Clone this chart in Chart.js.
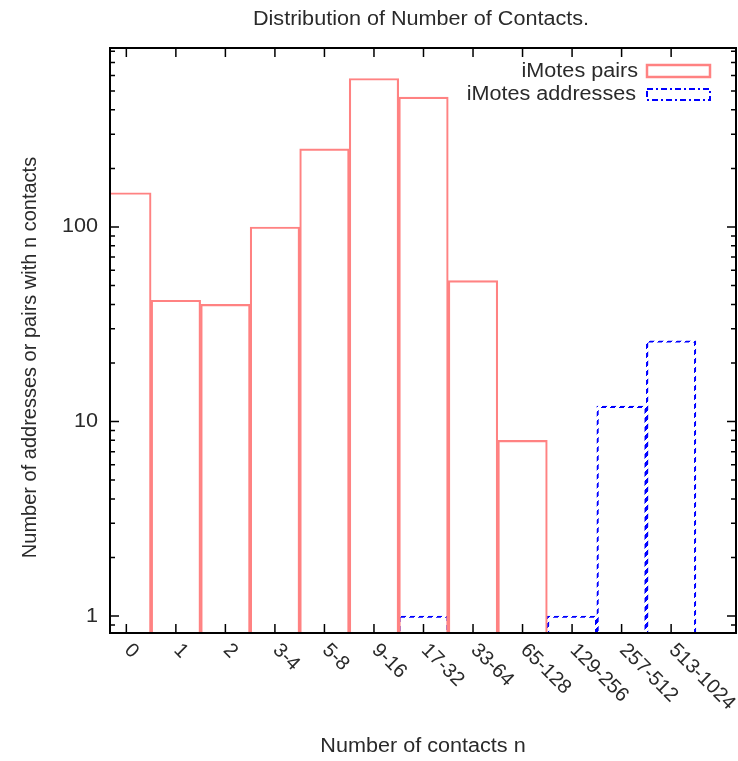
<!DOCTYPE html>
<html>
<head>
<meta charset="utf-8">
<script src="https://cdn.jsdelivr.net/npm/chart.js@4"></script>
<style>
  html, body { margin: 0; padding: 0; background: #fff; }
  #wrap { width: 738px; height: 761px; }
</style>
</head>
<body>
<div id="wrap"><canvas id="contactsChart"></canvas></div>
<script>
// data (log scale)
const categories = ['0', '1', '2', '3-4', '5-8', '9-16', '17-32', '33-64', '65-128', '129-256', '257-512', '513-1024'];
const pairs = [150, 42, 40, 100, 252, 580, 465, 53, 8, null, null, null];
const addresses = [null, null, null, null, null, null, 1, null, null, 1, 12, 26];
const yTickValues = [1, 10, 100];
const yTickLabels = ['1', '10', '100'];

const FONT = '20px "Liberation Sans", Arial, sans-serif';
const TEXT = '#2a2a2a';
const PINK = 'rgb(255,130,130)';
const BLUE = '#0000ff';
const STRETCH = 1.08; // the picture's horizontal text is a bit wide

// dashed look for the blue outline: diagonal stripes used as border colour
function dashPattern() {
    const c = document.createElement('canvas');
    c.width = c.height = 9;
    const g = c.getContext('2d');
    g.fillStyle = BLUE;
    for (let i = 0; i < 9; i++) {
        for (let j = 0; j < 9; j++) {
            if ((i + j) % 9 < 5) g.fillRect(i, j, 1, 1);
        }
    }
    return g.createPattern(c, 'repeat');
}

const minorTicks = [];
[0.1, 1, 10, 100].forEach(d => {
    for (let k = 2; k <= 9; k++) minorTicks.push(d * k);
});

function wideText(ctx, str, x, y, sx) {
    ctx.save();
    ctx.translate(x, y);
    ctx.scale(sx, 1);
    ctx.fillText(str, 0, 0);
    ctx.restore();
}

const gnuplotLook = {
    id: 'gnuplotLook',
    afterDatasetsDraw(chart) {
        const {ctx, chartArea: a, scales: {x, y}} = chart;
        ctx.save();

        // ticks (inside, mirrored)
        ctx.strokeStyle = '#000';
        ctx.lineWidth = 1.5;
        ctx.beginPath();
        categories.forEach((c, i) => {
            const px = x.getPixelForValue(i);
            ctx.moveTo(px, a.bottom); ctx.lineTo(px, a.bottom - 9);
            ctx.moveTo(px, a.top); ctx.lineTo(px, a.top + 9);
        });
        yTickValues.forEach(v => {
            const py = y.getPixelForValue(v);
            ctx.moveTo(a.left, py); ctx.lineTo(a.left + 9, py);
            ctx.moveTo(a.right, py); ctx.lineTo(a.right - 9, py);
        });
        minorTicks.forEach(v => {
            if (v < y.min || v > y.max) return;
            const py = y.getPixelForValue(v);
            ctx.moveTo(a.left, py); ctx.lineTo(a.left + 5, py);
            ctx.moveTo(a.right, py); ctx.lineTo(a.right - 5, py);
        });
        ctx.stroke();

        // frame
        ctx.lineWidth = 2;
        ctx.strokeRect(a.left, a.top, a.right - a.left, a.bottom - a.top);

        ctx.font = FONT;
        ctx.fillStyle = TEXT;

        // y tick labels
        ctx.textAlign = 'right';
        ctx.textBaseline = 'middle';
        yTickValues.forEach((v, i) => {
            wideText(ctx, yTickLabels[i], a.left - 12, y.getPixelForValue(v), STRETCH);
        });

        // x tick labels, rotated down to the right
        ctx.textAlign = 'left';
        categories.forEach((c, i) => {
            ctx.save();
            ctx.translate(x.getPixelForValue(i) + 1, a.bottom + 14);
            ctx.rotate(Math.PI / 4);
            ctx.fillText(c, 0, 0);
            ctx.restore();
        });

        // titles
        const cx = (a.left + a.right) / 2;
        ctx.textAlign = 'center';
        wideText(ctx, 'Distribution of Number of Contacts.', cx - 2, 19, STRETCH);
        wideText(ctx, 'Number of contacts n', cx, 746, STRETCH);
        ctx.save();
        ctx.translate(30, (a.top + a.bottom) / 2 + 17);
        ctx.rotate(-Math.PI / 2);
        ctx.fillText('Number of addresses or pairs with n contacts', 0, 0);
        ctx.restore();

        // legend
        ctx.textAlign = 'right';
        wideText(ctx, 'iMotes pairs', a.right - 98, a.top + 23, STRETCH);
        wideText(ctx, 'iMotes addresses', a.right - 100, a.top + 46, STRETCH);
        ctx.lineWidth = 2.5;
        ctx.strokeStyle = PINK;
        ctx.strokeRect(a.right - 89, a.top + 17, 63, 12);
        ctx.lineWidth = 2;
        ctx.strokeStyle = BLUE;
        ctx.setLineDash([6, 3, 2, 3]);
        ctx.strokeRect(a.right - 89, a.top + 41, 63, 11);
        ctx.restore();
    }
};

const ctx = document.getElementById('contactsChart').getContext('2d');

const contactsChart = new Chart(ctx, {
    type: 'bar',
    data: {
        datasets: [{
            label: 'iMotes pairs',
            data: categories.map((c, i) => ({x: i, y: pairs[i]})),
            backgroundColor: 'rgba(0,0,0,0)',
            borderColor: PINK,
            borderWidth: 1.5,
            borderSkipped: 'start',
            barPercentage: 1,
            categoryPercentage: 1,
            grouped: false,
            clip: 0
        }, {
            label: 'iMotes addresses',
            data: categories.map((c, i) => ({x: i, y: addresses[i]})),
            backgroundColor: 'rgba(0,0,0,0)',
            borderColor: dashPattern(),
            borderWidth: 1.5,
            borderSkipped: 'start',
            barPercentage: 1,
            categoryPercentage: 1,
            grouped: false,
            clip: 0
        }]
    },
    options: {
        responsive: true,
        maintainAspectRatio: false,
        animation: false,
        layout: {
            padding: {left: 110, top: 48, right: 2, bottom: 128}
        },
        scales: {
            x: {
                type: 'linear',
                offset: false,
                min: -0.33,
                max: 12.31,
                bounds: 'data',
                display: false,
                afterBuildTicks: s => {
                    s.ticks = categories.map((c, i) => ({value: i}));
                }
            },
            y: {
                type: 'logarithmic',
                min: 0.818,
                max: 832,
                bounds: 'data',
                display: false
            }
        },
        plugins: {
            legend: {display: false},
            tooltip: {enabled: false}
        }
    },
    plugins: [gnuplotLook]
});
</script>
</body>
</html>
